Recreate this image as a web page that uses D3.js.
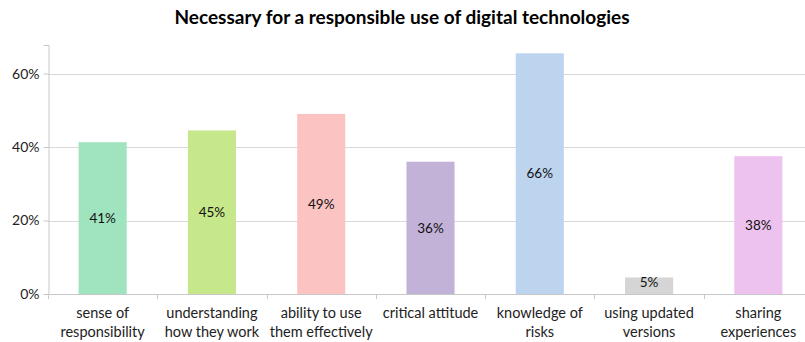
<!DOCTYPE html>
<html>
<head>
<meta charset="utf-8">
<script src="https://cdn.jsdelivr.net/npm/d3@7"></script>
<style>
  body { margin: 0; background: #fff; }
  svg { display: block; font-family: Lato, "Open Sans", sans-serif; }
</style>
</head>
<body>
<svg id="chart" width="805" height="342"></svg>
<script>
// chart data
const categories = [
    ["sense of", "responsibility"],
    ["understanding", "how they work"],
    ["ability to use", "them effectively"],
    ["critical attitude"],
    ["knowledge of", "risks"],
    ["using updated", "versions"],
    ["sharing", "experiences"]
];
const values = [0.413, 0.445, 0.49, 0.36, 0.655, 0.045, 0.375];
const labels = ["41%", "45%", "49%", "36%", "66%", "5%", "38%"];
const colors = ["#9fe3bf", "#c6e88a", "#fcc3c3", "#c3b2d8", "#bdd4ef", "#d5d5d5", "#eec2ee"];
const yTicks = [0, 0.2, 0.4, 0.6];
const title = "Necessary for a responsible use of digital technologies";

const svg = d3.select("#chart");
const plotLeft = 48, plotRight = 813, plotTop = 45, plotBottom = 294;

const x = d3.scaleBand()
    .domain(d3.range(categories.length))
    .range([plotLeft, plotRight])
    .paddingInner(0.56)
    .paddingOuter(0.28);

const y = d3.scaleLinear()
    .domain([0, 0.6776])
    .range([plotBottom, plotTop]);

// title
svg.append("text")
    .attr("x", 402)
    .attr("y", 24)
    .attr("text-anchor", "middle")
    .style("font-size", "19px")
    .style("font-weight", "bold")
    .style("fill", "#000")
    .text(title);

// gridlines
svg.selectAll(".grid")
    .data(yTicks.slice(1))
    .enter()
    .append("line")
    .attr("x1", plotLeft)
    .attr("x2", plotRight)
    .attr("y1", d => Math.round(y(d)) + 0.5)
    .attr("y2", d => Math.round(y(d)) + 0.5)
    .style("stroke", "#d9d9d9")
    .style("stroke-width", 1);

// y axis
const yAxis = svg.append("g")
    .attr("transform", `translate(${plotLeft + 0.5},0)`)
    .call(d3.axisLeft(y).tickValues(yTicks).tickFormat(d3.format(".0%")).tickSize(5).tickPadding(4));
yAxis.select(".domain").style("stroke", "#c8c8c8");
yAxis.selectAll(".tick line").style("stroke", "#c8c8c8");
yAxis.selectAll("text").style("font-size", "14px").style("fill", "#222").style("font-family", "Lato, sans-serif");

// bars
svg.selectAll(".bar")
    .data(values)
    .enter()
    .append("rect")
    .attr("class", "bar")
    .attr("x", (d, i) => x(i))
    .attr("width", x.bandwidth())
    .attr("y", d => y(d))
    .attr("height", d => plotBottom - y(d))
    .style("fill", (d, i) => colors[i]);

// x axis
const step = x.step();
const xAxis = svg.append("g");
xAxis.append("line")
    .attr("x1", plotLeft).attr("x2", plotRight)
    .attr("y1", plotBottom + 0.5).attr("y2", plotBottom + 0.5)
    .style("stroke", "#c8c8c8");
xAxis.selectAll(".xtick")
    .data(d3.range(categories.length + 1))
    .enter()
    .append("line")
    .attr("x1", i => Math.round(plotLeft + i * step) + 0.5)
    .attr("x2", i => Math.round(plotLeft + i * step) + 0.5)
    .attr("y1", plotBottom)
    .attr("y2", plotBottom + 5)
    .style("stroke", "#c8c8c8");

const catText = xAxis.selectAll(".cat")
    .data(categories)
    .enter()
    .append("text")
    .attr("text-anchor", "middle")
    .attr("x", (d, i) => x(i) + x.bandwidth() / 2)
    .attr("y", 318)
    .style("font-size", "14.5px")
    .style("fill", "#222");
catText.selectAll("tspan")
    .data(d => d)
    .enter()
    .append("tspan")
    .attr("x", function () { return this.parentNode.getAttribute("x"); })
    .attr("dy", (d, i) => i === 0 ? 0 : 19)
    .text(d => d);

// data labels
svg.selectAll(".val")
    .data(values)
    .enter()
    .append("text")
    .attr("text-anchor", "middle")
    .attr("x", (d, i) => x(i) + x.bandwidth() / 2)
    .attr("y", d => Math.min((y(d) + plotBottom) / 2, plotBottom - 12))
    .attr("dy", "0.35em")
    .style("font-size", "13.5px")
    .style("fill", "#111")
    .text((d, i) => labels[i]);
</script>
</body>
</html>
